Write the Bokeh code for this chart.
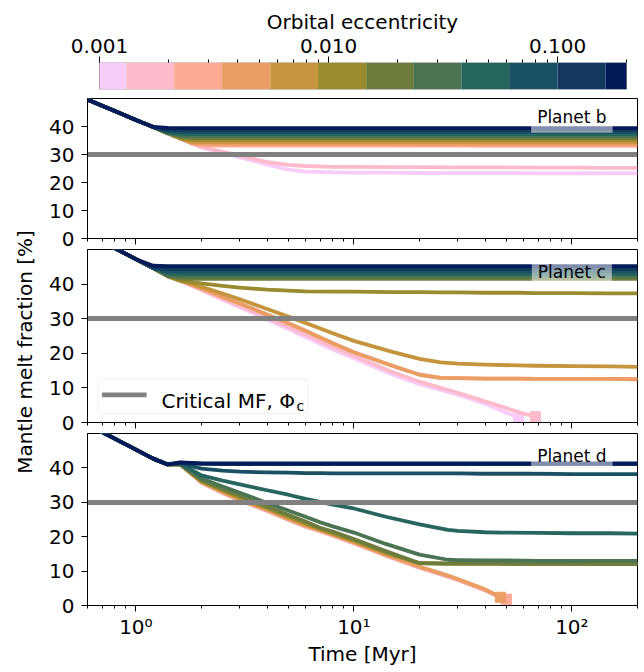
import math
from bokeh.plotting import figure
from bokeh.layouts import column, row
from bokeh.models import Range1d, FixedTicker, CustomJSTickFormatter, Label, BoxAnnotation
from bokeh.embed import file_html
from bokeh.resources import INLINE

FONT = "DejaVu Sans"

# ---------------- data ----------------
eccentricity = [0.001, 0.0016, 0.0026, 0.0042, 0.0069, 0.011, 0.018, 0.029, 0.047, 0.076, 0.12, 0.2]
ecc_edges = [0.001, 0.00131, 0.00212, 0.00343, 0.00557, 0.0090, 0.0146, 0.0236, 0.038, 0.062, 0.100, 0.162, 0.2]
ecc_colors = ["#F8CCF9", "#FDBACA", "#FCAA93", "#EA9E64", "#C5943C", "#9A8B2F",
              "#6E7C3E", "#4A7452", "#27665F", "#1A5063", "#133A5E", "#031B59"]
cbar_ticks = [0.001, 0.01, 0.1]
cbar_tick_labels = ["0.001", "0.010", "0.100"]
x_ticks = [1, 10, 100]
x_tick_labels = ["10\u2070", "10\u00b9", "10\u00b2"]
y_ticks = [0, 10, 20, 30, 40]
critical_mf = 30
planet_names = ["Planet b", "Planet c", "Planet d"]

# Planet b
time_b = [0.6, 0.8, 1.0, 1.2, 1.4, 1.6, 1.8, 2.0, 2.5, 3, 4, 5, 6, 8, 10, 15, 20, 30, 50, 70, 100, 150, 200]
mf_b = [
    [49.6, 45.5, 42.3, 39.8, 37.6, 35.7, 34.0, 32.5, 30.6, 29.0, 26.4, 24.6, 23.9, 23.6, 23.5, 23.5, 23.4, 23.4, 23.4, 23.3, 23.3, 23.3, 23.3],
    [49.6, 45.5, 42.3, 39.8, 37.6, 35.7, 34.0, 32.6, 31.0, 29.6, 27.3, 26.3, 25.9, 25.6, 25.6, 25.5, 25.5, 25.4, 25.4, 25.3, 25.3, 25.2, 25.2],
    [49.6, 45.5, 42.3, 39.8, 37.6, 35.7, 34.0, 33.3, 33.2, 33.2, 33.2, 33.2, 33.2, 33.2, 33.2, 33.2, 33.2, 33.2, 33.1, 33.1, 33.1, 33.1, 33.1],
    [49.6, 45.5, 42.3, 39.8, 37.6, 35.7, 34.1, 33.8, 33.8, 33.8, 33.8, 33.8, 33.8, 33.8, 33.8, 33.8, 33.7, 33.7, 33.7, 33.7, 33.7, 33.7, 33.7],
    [49.6, 45.5, 42.3, 39.8, 37.6, 35.7, 34.6, 34.5, 34.5, 34.5, 34.5, 34.5, 34.5, 34.5, 34.5, 34.5, 34.5, 34.5, 34.5, 34.5, 34.5, 34.5, 34.5],
    [49.6, 45.5, 42.3, 39.8, 37.6, 35.8, 35.3, 35.2, 35.2, 35.2, 35.2, 35.2, 35.2, 35.2, 35.2, 35.2, 35.2, 35.2, 35.2, 35.2, 35.2, 35.2, 35.2],
    [49.6, 45.5, 42.3, 39.8, 37.6, 36.2, 35.9, 35.9, 35.9, 35.9, 35.9, 35.9, 35.9, 35.9, 35.9, 35.9, 35.9, 35.9, 35.9, 35.9, 35.9, 35.9, 35.9],
    [49.6, 45.5, 42.3, 39.8, 37.7, 36.7, 36.6, 36.6, 36.6, 36.6, 36.6, 36.6, 36.6, 36.6, 36.6, 36.6, 36.6, 36.6, 36.6, 36.6, 36.6, 36.6, 36.6],
    [49.6, 45.5, 42.3, 39.8, 37.9, 37.4, 37.3, 37.3, 37.3, 37.3, 37.3, 37.3, 37.3, 37.3, 37.3, 37.3, 37.3, 37.3, 37.3, 37.3, 37.3, 37.3, 37.3],
    [49.6, 45.5, 42.3, 39.8, 38.3, 38.0, 38.0, 38.0, 38.0, 38.0, 38.0, 38.0, 38.0, 38.0, 38.0, 38.0, 38.0, 38.0, 38.0, 38.0, 38.0, 38.0, 38.0],
    [49.6, 45.5, 42.3, 39.8, 38.8, 38.7, 38.7, 38.7, 38.7, 38.7, 38.7, 38.7, 38.7, 38.7, 38.7, 38.7, 38.7, 38.7, 38.7, 38.7, 38.7, 38.7, 38.7],
    [49.6, 45.5, 42.3, 39.9, 39.5, 39.4, 39.4, 39.4, 39.4, 39.4, 39.4, 39.4, 39.4, 39.4, 39.4, 39.4, 39.4, 39.4, 39.4, 39.4, 39.4, 39.4, 39.4],
]

# Planet c
time_c = [0.6, 0.8, 1.0, 1.2, 1.4, 1.6, 1.8, 2.0, 2.5, 3, 4, 5, 6, 8, 10, 15, 20, 25, 30, 40, 57, 68, 100, 150, 200]
mf_c = [
    [54.5, 50.4, 47.2, 44.6, 42.3, 41.0, 39.5, 38.2, 35.5, 33.3, 29.8, 27.0, 24.7, 21.1, 18.6, 13.9, 11.1, 9.4, 8.0, 5.4, 1.4, None, None, None, None],
    [54.5, 50.4, 47.2, 44.6, 42.3, 41.0, 39.6, 38.4, 35.8, 33.7, 30.3, 27.6, 25.4, 21.8, 19.3, 14.6, 11.8, 10.0, 8.6, 6.1, 3.0, 1.7, None, None, None],
    [54.5, 50.4, 47.2, 44.6, 42.3, 41.0, 39.8, 38.7, 36.3, 34.4, 31.2, 28.7, 26.5, 22.9, 20.3, 16.4, 13.8, 12.9, 12.8, 12.7, 12.7, 12.6, 12.6, 12.6, 12.5],
    [54.5, 50.4, 47.2, 44.6, 42.3, 41.0, 39.8, 38.7, 36.3, 34.4, 31.2, 28.7, 26.5, 22.9, 20.3, 16.4, 13.8, 12.9, 12.8, 12.7, 12.7, 12.6, 12.6, 12.6, 12.5],
    [54.5, 50.4, 47.2, 44.6, 42.3, 41.0, 40.1, 39.2, 37.3, 35.6, 32.8, 30.6, 28.8, 25.8, 23.6, 20.4, 18.4, 17.4, 17.0, 16.7, 16.5, 16.4, 16.3, 16.2, 16.1],
    [54.5, 50.4, 47.2, 44.6, 42.3, 41.0, 40.6, 40.2, 39.5, 39.0, 38.4, 38.1, 37.9, 37.8, 37.8, 37.7, 37.7, 37.6, 37.6, 37.5, 37.5, 37.4, 37.4, 37.3, 37.3],
    [54.5, 50.4, 47.2, 44.6, 42.3, 41.6, 41.5, 41.5, 41.5, 41.5, 41.5, 41.5, 41.5, 41.5, 41.5, 41.5, 41.5, 41.5, 41.5, 41.5, 41.5, 41.5, 41.5, 41.5, 41.5],
    [54.5, 50.4, 47.2, 44.6, 42.4, 42.2, 42.2, 42.2, 42.2, 42.2, 42.2, 42.2, 42.2, 42.2, 42.2, 42.2, 42.2, 42.2, 42.2, 42.2, 42.2, 42.2, 42.2, 42.2, 42.2],
    [54.5, 50.4, 47.2, 44.6, 43.0, 42.9, 42.9, 42.9, 42.9, 42.9, 42.9, 42.9, 42.9, 42.9, 42.9, 42.9, 42.9, 42.9, 42.9, 42.9, 42.9, 42.9, 42.9, 42.9, 42.9],
    [54.5, 50.4, 47.2, 44.6, 43.7, 43.6, 43.6, 43.6, 43.6, 43.6, 43.6, 43.6, 43.6, 43.6, 43.6, 43.6, 43.6, 43.6, 43.6, 43.6, 43.6, 43.6, 43.6, 43.6, 43.6],
    [54.5, 50.4, 47.2, 44.7, 44.4, 44.4, 44.4, 44.4, 44.4, 44.4, 44.4, 44.4, 44.4, 44.4, 44.4, 44.4, 44.4, 44.4, 44.4, 44.4, 44.4, 44.4, 44.4, 44.4, 44.4],
    [54.5, 50.4, 47.2, 45.3, 45.2, 45.2, 45.2, 45.2, 45.2, 45.2, 45.2, 45.2, 45.2, 45.2, 45.2, 45.2, 45.2, 45.2, 45.2, 45.2, 45.2, 45.2, 45.2, 45.2, 45.2],
]

# Planet d
time_d = [0.6, 0.8, 1.0, 1.2, 1.4, 1.6, 2.0, 2.5, 3, 4, 5, 6, 7, 8, 10, 14, 20, 27, 30, 40, 47, 50, 70, 100, 150, 200]
mf_d = [
    [52.6, 48.5, 45.3, 42.7, 41.0, 41.0, 35.7, 32.7, 30.5, 27.5, 24.9, 22.9, 21.6, 20.3, 18.1, 14.5, 11.0, 8.4, 7.4, 4.4, 2.4, 1.8, None, None, None, None],
    [52.6, 48.5, 45.3, 42.7, 41.0, 41.0, 35.7, 32.7, 30.5, 27.5, 24.9, 22.9, 21.6, 20.3, 18.1, 14.5, 11.0, 8.4, 7.4, 4.4, 2.4, 1.8, None, None, None, None],
    [52.6, 48.5, 45.3, 42.7, 41.0, 41.0, 35.8, 32.8, 30.6, 27.6, 25.0, 23.0, 21.7, 20.4, 18.2, 14.6, 11.1, 8.5, 7.5, 4.5, 2.4, 1.8, None, None, None, None],
    [52.6, 48.5, 45.3, 42.7, 41.0, 41.0, 35.9, 33.0, 30.8, 27.8, 25.2, 23.2, 21.9, 20.6, 18.4, 14.8, 11.3, 8.7, 7.7, 4.7, 2.4, None, None, None, None, None],
    [52.6, 48.5, 45.3, 42.7, 41.0, 41.0, 36.0, 33.3, 31.2, 28.1, 25.6, 23.6, 22.1, 20.8, 18.7, 15.1, 12.3, 12.2, 12.2, 12.2, 12.2, 12.1, 12.1, 12.1, 12.0, 12.0],
    [52.6, 48.5, 45.3, 42.7, 41.0, 41.0, 36.2, 33.6, 31.5, 28.4, 25.9, 23.9, 22.3, 21.0, 19.0, 15.4, 12.3, 12.2, 12.2, 12.2, 12.2, 12.1, 12.1, 12.1, 12.0, 12.0],
    [52.6, 48.5, 45.3, 42.7, 41.0, 41.0, 36.4, 33.9, 31.9, 28.8, 26.4, 24.4, 22.6, 21.5, 19.3, 15.8, 12.3, 12.2, 12.2, 12.2, 12.2, 12.1, 12.1, 12.1, 12.0, 12.0],
    [52.6, 48.5, 45.3, 42.7, 41.0, 41.1, 36.9, 34.6, 32.8, 29.8, 27.6, 25.8, 24.2, 23.0, 21.2, 17.9, 14.8, 13.3, 13.2, 13.1, 13.1, 13.1, 13.0, 13.0, 13.0, 13.0],
    [52.6, 48.5, 45.3, 42.7, 41.0, 41.2, 37.8, 36.3, 35.2, 33.5, 32.2, 31.0, 30.1, 29.3, 28.2, 25.8, 23.6, 22.0, 21.7, 21.3, 21.2, 21.2, 21.1, 21.0, 21.0, 20.9],
    [52.6, 48.5, 45.3, 42.7, 41.0, 41.3, 39.8, 39.2, 38.9, 38.7, 38.6, 38.5, 38.5, 38.4, 38.4, 38.4, 38.4, 38.4, 38.4, 38.3, 38.3, 38.3, 38.3, 38.2, 38.2, 38.2],
    [52.6, 48.5, 45.3, 42.7, 41.0, 41.5, 41.2, 41.1, 41.1, 41.1, 41.1, 41.1, 41.1, 41.1, 41.1, 41.1, 41.1, 41.1, 41.1, 41.1, 41.1, 41.1, 41.1, 41.1, 41.1, 41.1],
    [52.6, 48.5, 45.3, 42.7, 41.0, 41.6, 41.3, 41.3, 41.3, 41.3, 41.3, 41.3, 41.3, 41.3, 41.3, 41.3, 41.3, 41.3, 41.3, 41.3, 41.3, 41.3, 41.3, 41.3, 41.3, 41.3],
]

# ---------------- layout constants ----------------
T_MIN, T_MAX = 0.6, 200
Y_MIN, Y_MAX = 0, 50
PANEL_W = 596
YLAB_W = 46
LINE_W = 3.8
BORDER_L, BORDER_R = 40, 5
H_CB, H_P1, H_P2, H_P3 = 98, 151, 184, 235
TOTAL_H = H_CB + H_P1 + H_P2 + H_P3

# colour bar occupies a slightly narrower span than the panel frames
frame_px = PANEL_W - BORDER_L - BORDER_R
cb_pad_l, cb_pad_r = 12, 11
cb_px_per_dec = (frame_px - cb_pad_l - cb_pad_r) / math.log10(ecc_edges[-1] / ecc_edges[0])
cb_start = ecc_edges[0] / 10 ** (cb_pad_l / cb_px_per_dec)
cb_end = ecc_edges[-1] * 10 ** (cb_pad_r / cb_px_per_dec)


def tick_formatter(vals, labels):
    return CustomJSTickFormatter(
        args=dict(tick_vals=vals, tick_labels=labels),
        code="""
        for (let i = 0; i < tick_vals.length; i++) {
            if (Math.abs(Math.log10(tick / tick_vals[i])) < 1e-6) { return tick_labels[i]; }
        }
        return '';
        """)


def style_axes(p):
    p.xgrid.visible = False
    p.ygrid.visible = False
    p.outline_line_color = "black"
    p.outline_line_alpha = 1.0
    p.outline_line_width = 1
    for ax in p.axis:
        ax.axis_line_color = "black"
        ax.major_tick_line_color = "black"
        ax.minor_tick_line_color = "black"
        ax.major_tick_in = 0
        ax.major_tick_out = 6
        ax.minor_tick_in = 0
        ax.minor_tick_out = 3
        ax.major_label_text_font = FONT
        ax.major_label_text_font_size = "20px"
        ax.major_label_text_color = "black"
        ax.axis_label_text_font = FONT
        ax.axis_label_text_font_size = "20px"
        ax.axis_label_text_font_style = "normal"
        ax.axis_label_text_color = "black"


minor_x = [m * 10.0 ** e for e in (-1, 0, 1, 2) for m in range(2, 10)]
minor_x = [v for v in minor_x if T_MIN - 1e-9 <= v <= T_MAX + 1e-9]

# ---------------- colour bar ----------------
cb = figure(width=PANEL_W, height=H_CB, x_axis_type="log",
            x_range=Range1d(cb_start, cb_end), y_range=Range1d(0, 1),
            x_axis_location="above", y_axis_type=None,
            output_backend="svg", toolbar_location=None,
            min_border_left=BORDER_L, min_border_right=BORDER_R, min_border_top=62, min_border_bottom=9)
cb.quad(left=ecc_edges[:-1], right=ecc_edges[1:], bottom=0, top=1,
        fill_color=ecc_colors, line_color=None)
style_axes(cb)
cb.outline_line_color = None
cb.xaxis.axis_line_color = None
cb.xaxis.ticker = FixedTicker(ticks=cbar_ticks,
                              minor_ticks=[m * 10.0 ** e for e in (-3, -2) for m in range(2, 10)] + [0.2])
cb.xaxis.formatter = tick_formatter(cbar_ticks, cbar_tick_labels)
cb.xaxis.axis_label = "Orbital eccentricity"
cb.xaxis.major_label_standoff = 4
cb.xaxis.axis_label_standoff = 2
cb.add_layout(BoxAnnotation(left=ecc_edges[0], right=ecc_edges[-1], bottom=0, top=1,
                            fill_alpha=0, line_color="black", line_width=1))


# ---------------- panels ----------------
def make_panel(name, times, mf, height, bottom_border, show_labels):
    p = figure(width=PANEL_W, height=height, x_axis_type="log",
               x_range=Range1d(T_MIN, T_MAX), y_range=Range1d(Y_MIN, Y_MAX),
               output_backend="svg", toolbar_location=None,
               min_border_left=BORDER_L, min_border_right=BORDER_R, min_border_top=0,
               min_border_bottom=bottom_border)
    for k, ys in enumerate(mf):
        n = len([v for v in ys if v is not None])
        p.line(times[:n], ys[:n], line_color=ecc_colors[k], line_width=LINE_W,
               line_join="round", line_cap="butt")
        if n < len(ys):
            p.scatter([times[n - 1]], [ys[n - 1]], marker="square", size=10,
                      fill_color=ecc_colors[k], line_color=ecc_colors[k])
    p.hspan(y=[critical_mf], line_color="grey", line_width=5)
    style_axes(p)
    p.xaxis.ticker = FixedTicker(ticks=x_ticks, minor_ticks=minor_x)
    p.yaxis.ticker = FixedTicker(ticks=y_ticks, minor_ticks=[])
    p.yaxis.major_label_standoff = 7
    if show_labels:
        p.xaxis.formatter = tick_formatter(x_ticks, x_tick_labels)
        p.xaxis.axis_label = "Time [Myr]"
        p.xaxis.major_label_standoff = 3
        p.xaxis.axis_label_standoff = 0
    else:
        p.xaxis.formatter = tick_formatter([], [])
        p.xaxis.major_label_text_font_size = "0px"
        p.xaxis.major_label_standoff = 0
    p.add_layout(Label(x=100, y=43.5, text=name, text_align="center", text_baseline="middle",
                       text_font=FONT, text_font_size="17px", text_color="black",
                       background_fill_color="white", background_fill_alpha=0.5, padding=6))
    return p


p1 = make_panel(planet_names[0], time_b, mf_b, H_P1, 11, False)
p2 = make_panel(planet_names[1], time_c, mf_c, H_P2, 11, False)
p3 = make_panel(planet_names[2], time_d, mf_d, H_P3, 63, True)

# legend for the critical melt fraction (panel c)
p2.add_layout(BoxAnnotation(left=0.671, right=6.17, bottom=2.6, top=12.5,
                            fill_color="white", fill_alpha=0.8, line_color="#cccccc",
                            line_width=1, border_radius=4))
p2.add_layout(BoxAnnotation(left=0.70, right=1.12, bottom=7.3, top=8.7,
                            fill_color="grey", fill_alpha=1.0, line_color=None))
p2.add_layout(Label(x=1.31, y=6.3, text="Critical MF, \u03a6", text_align="left",
                    text_baseline="alphabetic", text_font=FONT, text_font_size="20px",
                    text_color="black"))
p2.add_layout(Label(x=5.45, y=4.9, text="c", text_align="left", text_baseline="alphabetic",
                    text_font=FONT, text_font_size="14px", text_color="black"))

# ---------------- shared y label ----------------
yl = figure(width=YLAB_W, height=TOTAL_H, x_range=Range1d(0, YLAB_W), y_range=Range1d(0, TOTAL_H),
            x_axis_type=None, y_axis_type=None, output_backend="svg", toolbar_location=None,
            min_border=0, outline_line_color=None)
panels_mid = H_CB + (H_P1 + H_P2 + H_P3 - 63) / 2.0
yl.add_layout(Label(x=24, y=TOTAL_H - panels_mid, text="Mantle melt fraction [%]",
                    angle=math.pi / 2, text_align="center", text_baseline="middle",
                    text_font=FONT, text_font_size="20px", text_color="black"))

layout = row(yl, column(cb, p1, p2, p3))
open("out.html", "w").write(file_html(layout, INLINE))
